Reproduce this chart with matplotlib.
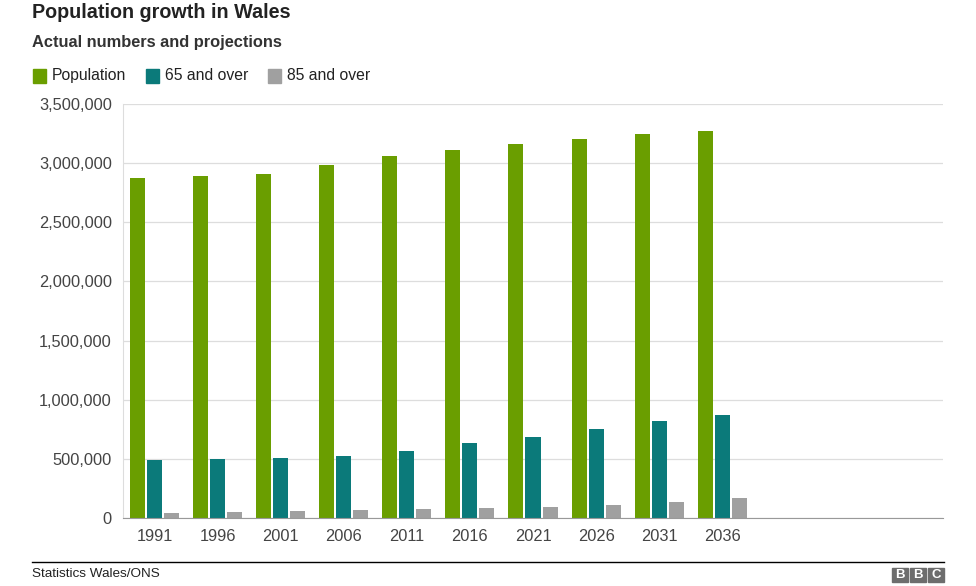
import numpy as np
import matplotlib.pyplot as plt
from matplotlib.patches import Rectangle
from matplotlib.ticker import FuncFormatter

plt.rcParams['font.family'] = ['Liberation Sans', 'DejaVu Sans']

years = ['1991', '1996', '2001', '2006', '2011', '2016', '2021', '2026', '2031', '2036']
population = [2874000, 2891000, 2908000, 2984000, 3060000, 3111000, 3162000, 3204000, 3246000, 3272000]
over_65 = [490000, 499000, 507000, 524000, 566000, 634000, 685000, 752000, 820000, 871000]
over_85 = [42000, 51000, 59000, 68000, 76000, 85000, 93000, 110000, 135000, 169000]

green = '#6a9e00'
teal = '#0b7a7a'
grey = '#a0a0a0'

W, H = 976, 586
fig = plt.figure(figsize=(W / 100, H / 100), dpi=100)
ax = fig.add_axes([123 / W, 1 - 518 / H, (943 - 123) / W, (518 - 104) / H])

x = np.arange(len(years))
bw = 15 / 63
step = 17 / 63
ax.bar(x - step, population, width=bw, color=green, zorder=3)
ax.bar(x, over_65, width=bw, color=teal, zorder=3)
ax.bar(x + step, over_85, width=bw, color=grey, zorder=3)

ax.set_xlim(-0.5, 12.5)
ax.set_ylim(0, 3500000)
ax.set_yticks(np.arange(0, 3500001, 500000))
ax.yaxis.set_major_formatter(FuncFormatter(lambda v, p: f'{int(v):,}'))
ax.set_xticks(x)
ax.set_xticklabels(years)
ax.tick_params(axis='both', length=0, labelsize=11.8, colors='#444444')
ax.tick_params(axis='y', pad=8)
ax.tick_params(axis='x', pad=8)
ax.grid(axis='y', color='#dddddd', linewidth=0.9, zorder=0)
for s in ['top', 'right']:
    ax.spines[s].set_visible(False)
ax.spines['left'].set_color('#dddddd')
ax.spines['bottom'].set_color('#999999')
ax.spines['bottom'].set_zorder(4)

# titles
fig.text(32 / W, 1 - 12 / H, 'Population growth in Wales', fontsize=14.2, fontweight='bold',
         color='#222222', va='center', ha='left')
fig.text(32 / W, 1 - 42 / H, 'Actual numbers and projections', fontsize=11.8, fontweight='bold',
         color='#333333', va='center', ha='left')

# legend
for lx, label, c in [(33, 'Population', green), (146, '65 and over', teal), (268, '85 and over', grey)]:
    fig.patches.append(Rectangle((lx / W, 1 - 83 / H), 13 / W, 14 / H, color=c,
                                 transform=fig.transFigure, figure=fig))
    fig.text((lx + 19) / W, 1 - 76 / H, label, fontsize=11.3, color='#222222', va='center', ha='left')

# footer
fig.add_artist(plt.Line2D([32 / W, 944 / W], [1 - 562 / H, 1 - 562 / H], color='black',
                          linewidth=1, transform=fig.transFigure))
fig.text(32 / W, 1 - 574 / H, 'Statistics Wales/ONS', fontsize=9.7, color='#222222',
         va='center', ha='left')
for i, letter in enumerate('BBC'):
    bx = 892 + i * 18
    fig.patches.append(Rectangle((bx / W, 1 - 582 / H), 16 / W, 14 / H, color='#6d6d6d',
                                 transform=fig.transFigure, figure=fig))
    fig.text((bx + 8) / W, 1 - 575 / H, letter, fontsize=9.5, fontweight='bold', color='white',
             va='center', ha='center')

fig.savefig('out.png', dpi=100)
